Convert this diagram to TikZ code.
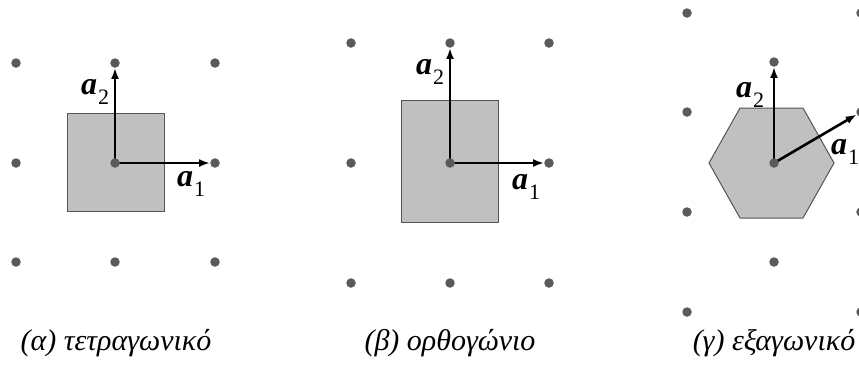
\documentclass[tikz,border=0pt]{standalone}
\usepackage{fontspec}
\setmainfont{Liberation Serif}
\usetikzlibrary{arrows.meta}
\pgfdeclarelayer{bg}
\pgfsetlayers{bg,main}
\definecolor{dotgray}{HTML}{5A5A5A}
\definecolor{cellgray}{HTML}{C0C0C0}
\definecolor{edgegray}{HTML}{555555}
\tikzset{
  dot/.style={circle, fill=dotgray, inner sep=0pt, minimum size=9.5pt},
  cell/.style={fill=cellgray, draw=edgegray, line width=1pt},
  vec/.style={line width=2.6pt, -{Latex[length=11pt,width=8pt]}},
  vlabel/.style={anchor=base west, inner sep=0pt, font=\fontsize{32}{32}\selectfont\bfseries\itshape},
  capt/.style={anchor=base, inner sep=0pt, font=\fontsize{30}{32}\selectfont\itshape}
}
\newcommand{\vecsub}[1]{a\hspace{1pt}\raisebox{-10pt}{\normalfont\fontsize{22}{22}\selectfont #1}}
\begin{document}
\begin{tikzpicture}[x=1pt,y=-1pt]
\useasboundingbox (0,0) rectangle (859,365);
% panel (a)
\foreach \i/\x in {1/16,2/115,3/215}
  \foreach \j/\y in {1/63,2/163,3/262}
    \node[dot] (A\i\j) at (\x,\y) {};
% panel (b)
\foreach \i/\x in {1/351,2/450,3/549}
  \foreach \j/\y in {1/43,2/163,3/283}
    \node[dot] (B\i\j) at (\x,\y) {};
% panel (c)
\foreach \j/\y in {1/13,2/112,3/212,4/312}{
  \node[dot] (CL\j) at (687,\y) {};
  \node[dot] (CR\j) at (861,\y) {};
}
\foreach \j/\y in {1/62,2/163,3/262}
  \node[dot] (CM\j) at (774,\y) {};

\begin{pgfonlayer}{bg}
  \draw[cell] (67,113) rectangle (164,211);
  \draw[vec] (A22.center) -- (A21);
  \draw[vec] (A22.center) -- (A32);
  \draw[cell] (401,100) rectangle (498,222);
  \draw[vec] (B22.center) -- (B21);
  \draw[vec] (B22.center) -- (B32);
  \draw[cell] (709,163) -- (740,108) -- (803,108) -- (834,163) -- (803,218) -- (740,218) -- cycle;
  \draw[vec] (CM2.center) -- (CM1);
  \draw[vec] (CM2.center) -- (CR2);
\end{pgfonlayer}

\node[vlabel] (la2) at (81,94) {\vecsub{2}};
\node[vlabel] (la1) at (177,186) {\vecsub{1}};
\node[vlabel] (lb2) at (416,74) {\vecsub{2}};
\node[vlabel] (lb1) at (512,189) {\vecsub{1}};
\node[vlabel] (lc2) at (736,97) {\vecsub{2}};
\node[vlabel] (lc1) at (831,154) {\vecsub{1}};

\node[capt] (ca) at (116,350) {(α) τετραγωνικό};
\node[capt] (cb) at (450,350) {(β) ορθογώνιο};
\node[capt] (cc) at (774,350) {(γ) εξαγωνικό};
\end{tikzpicture}
\end{document}
